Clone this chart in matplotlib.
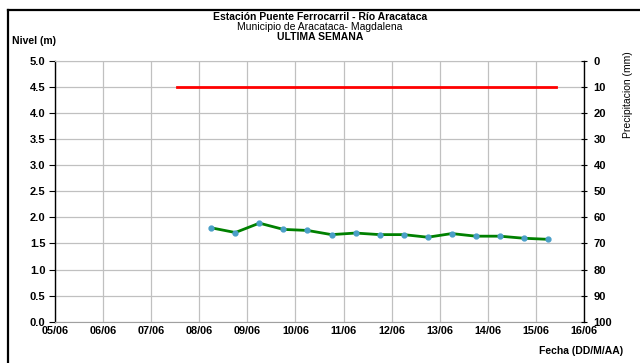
import matplotlib
matplotlib.use("Agg")
import matplotlib.pyplot as plt
from datetime import datetime, timedelta

plt.rcParams['font.family'] = ['Liberation Sans', 'DejaVu Sans']

# nivel cada 12 horas desde 08/06 06:00
inicio = datetime(2013, 6, 8, 6)
niveles = [1.80, 1.71, 1.89, 1.77, 1.75, 1.67, 1.70, 1.67, 1.67, 1.62,
           1.69, 1.64, 1.64, 1.60, 1.58]
fechas = [inicio + timedelta(hours=12 * i) for i in range(len(niveles))]

# nivel de alerta
alerta_fechas = [datetime(2013, 6, 7, 13), datetime(2013, 6, 15, 10)]
alerta_nivel = [4.5, 4.5]

dias = [datetime(2013, 6, d) for d in range(5, 17)]
etiquetas = [d.strftime("%d/%m") for d in dias]
y_ticks = [0.0, 0.5, 1.0, 1.5, 2.0, 2.5, 3.0, 3.5, 4.0, 4.5, 5.0]
precip_ticks = list(range(0, 101, 10))

fig = plt.figure(figsize=(6.4, 3.63), dpi=100)
ax = fig.add_axes([0.0859, 0.1138, 0.8266, 0.7182])

ax.plot(alerta_fechas, alerta_nivel, color='#ff0000', lw=2, zorder=3)
ax.plot(fechas, niveles, color='#008000', lw=2, zorder=4)
ax.plot(fechas, niveles, 'o', color='#4a9fc8', ms=3.5, mec='#4a9fc8', zorder=5)

ax.set_xlim(dias[0], dias[-1])
ax.set_ylim(0, 5)
ax.set_xticks(dias)
ax.set_xticklabels(etiquetas, fontsize=7.8, fontweight='bold')
ax.set_yticks(y_ticks)
ax.set_yticklabels([f"{v:.1f}" for v in y_ticks], fontsize=8, fontweight='bold')
ax.tick_params(axis='x', length=0, pad=3)
ax.tick_params(axis='y', length=4, width=0.8, direction='out', pad=3)
ax.grid(True, color='#c0c0c0', lw=0.9)
ax.set_axisbelow(True)
ax.spines['top'].set_color('#c0c0c0')
ax.spines['left'].set_linewidth(1)
ax.spines['bottom'].set_color('#a0a0a0')
ax.spines['right'].set_visible(False)

ax2 = ax.twinx()
ax2.set_ylim(100, 0)
ax2.set_yticks(precip_ticks)
ax2.set_yticklabels([str(v) for v in precip_ticks], fontsize=8, fontweight='bold')
ax2.tick_params(axis='y', length=4, width=0.8, direction='inout', pad=5)
for s in ['top', 'left', 'bottom']:
    ax2.spines[s].set_visible(False)
ax2.spines['right'].set_linewidth(1)

fig.text(0.5, 0.953, "Estación Puente Ferrocarril - Río Aracataca", ha='center', va='center',
         fontsize=7.5, fontweight='bold')
fig.text(0.5, 0.925, "Municipio de Aracataca- Magdalena", ha='center', va='center', fontsize=7.5)
fig.text(0.5, 0.897, "ULTIMA SEMANA", ha='center', va='center', fontsize=7.5, fontweight='bold')
fig.text(0.019, 0.886, "Nivel (m)", ha='left', va='center', fontsize=7.5, fontweight='bold')
fig.text(0.982, 0.86, "Precipitacion (mm)", ha='center', va='top', rotation=90, fontsize=7.5)
fig.text(0.973, 0.033, "Fecha (DD/M/AA)", ha='right', va='center', fontsize=7.5, fontweight='bold')

# marco
fig.add_artist(plt.Line2D([0.012, 0.012], [0, 0.972], color='black', lw=1.6, transform=fig.transFigure))
fig.add_artist(plt.Line2D([0.012, 1.0], [0.972, 0.972], color='black', lw=1.6, transform=fig.transFigure))

fig.savefig("out.png", dpi=100)
